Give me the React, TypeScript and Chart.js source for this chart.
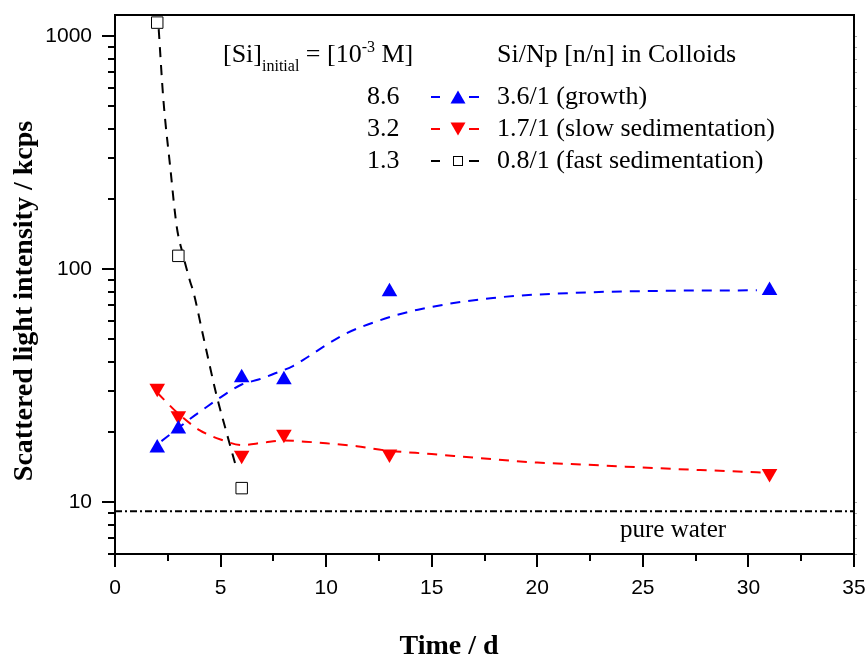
import React, { useEffect, useRef } from 'react';
import { Chart, registerables } from 'chart.js';

Chart.register(...registerables);

// ---- measured data ----
const days = [2, 3, 6, 8, 13, 31];
const growthIntensity = [17.1, 20.6, 34.2, 33.5, 80, 81];
const slowSedIntensity = [30.8, 23.5, 15.9, 19.6, 16.1, 13.3];
const fastSedDays = [2, 3, 6];
const fastSedIntensity = [1141, 114, 11.5];

// ---- fitted curves ----
const growthFitDays = [2.2, 3, 3.5, 4.2, 5, 6, 6.8, 7.5, 8.45, 9.27, 10.06, 10.93, 12.49, 14.35, 17.9, 21.6, 26.4, 30.4];
const growthFitIntensity = [18.3, 20.8, 22.6, 25.1, 28.2, 32, 33.6, 35.5, 38.5, 42.8, 47.6, 52.9, 60.1, 67, 75.2, 79, 80.8, 81.1];
const slowSedFitDays = [2, 3, 4, 5, 6, 7, 8, 9, 10, 11.45, 12.8, 15, 17.2, 20, 21.6, 25.7, 29.9, 30.8];
const slowSedFitIntensity = [29.5, 24, 20.4, 18.6, 17.6, 18, 18.4, 18.2, 17.9, 17.4, 16.7, 16.1, 15.5, 14.8, 14.6, 14.0, 13.5, 13.4];
const fastSedFitDays = [2.07, 2.29, 2.61, 2.92, 3.2, 3.55, 3.71, 4.19, 4.82, 5.29, 5.77];
const fastSedFitIntensity = [1070, 535, 277, 153, 117, 89, 80, 51, 28.5, 19.8, 13.8];

const pureWaterLevel = 9.15;

// ---- axes ----
const xMin = 0;
const xMax = 35;
const yMin = 6;
const yMax = 1230;
const xTicks = [0, 5, 10, 15, 20, 25, 30, 35];
const xMinorTicks = [2.5, 7.5, 12.5, 17.5, 22.5, 27.5, 32.5];
const yTicks = [10, 100, 1000];
const yMinorTicks = [6, 7, 8, 9, 20, 30, 40, 50, 60, 70, 80, 90, 200, 300, 400, 500, 600, 700, 800, 900];

const xTitle = 'Time / d';
const yTitle = 'Scattered light intensity / kcps';

// ---- legend ----
const legendConc = ['8.6', '3.2', '1.3'];
const legendLabels = ['3.6/1 (growth)', '1.7/1 (slow sedimentation)', '0.8/1 (fast sedimentation)'];
const legendColors = ['#0000ff', '#ff0000', '#000000'];
const legendMarkers = ['up', 'down', 'square'];

const pts = (xs: number[], ys: number[]) => xs.map((x, i) => ({ x, y: ys[i] }));

const decorPlugin = {
  id: 'decor',
  afterDraw(chart: any) {
    const { ctx, chartArea: a, scales } = chart;
    const xs = scales.x;
    const ys = scales.y;
    ctx.save();
    ctx.strokeStyle = '#000';
    ctx.lineWidth = 2;
    ctx.beginPath();
    xTicks.forEach((v) => {
      const p = Math.round(xs.getPixelForValue(v));
      ctx.moveTo(p, a.bottom);
      ctx.lineTo(p, a.bottom + 13);
    });
    xMinorTicks.forEach((v) => {
      const p = Math.round(xs.getPixelForValue(v));
      ctx.moveTo(p, a.bottom);
      ctx.lineTo(p, a.bottom + 7);
    });
    yTicks.forEach((v) => {
      const p = Math.round(ys.getPixelForValue(v));
      ctx.moveTo(a.left, p);
      ctx.lineTo(a.left - 13, p);
    });
    yMinorTicks.forEach((v) => {
      const p = Math.round(ys.getPixelForValue(v));
      ctx.moveTo(a.left, p);
      ctx.lineTo(a.left - 7, p);
    });
    ctx.stroke();

    ctx.strokeStyle = '#aaa';
    ctx.lineWidth = 1;
    ctx.beginPath();
    [...yTicks, ...yMinorTicks].forEach((v) => {
      const p = Math.round(ys.getPixelForValue(v)) + 0.5;
      ctx.moveTo(a.right, p);
      ctx.lineTo(a.right + 3, p);
    });
    ctx.stroke();

    ctx.strokeStyle = '#000';
    ctx.lineWidth = 2;
    ctx.strokeRect(a.left, a.top, a.right - a.left, a.bottom - a.top);

    ctx.fillStyle = '#000';
    ctx.font = 'bold 28px "Liberation Serif", "Times New Roman", serif';
    ctx.textAlign = 'center';
    ctx.textBaseline = 'alphabetic';
    ctx.fillText(xTitle, 449, 654);
    ctx.translate(32, 301);
    ctx.rotate(-Math.PI / 2);
    ctx.fillText(yTitle, 0, 0);
    ctx.restore();
  },
};

function LegendMarker({ kind, color }: { kind: string; color: string }) {
  const cy = 8;
  let marker: any;
  if (kind === 'up') {
    marker = <polygon points={`22.5,${cy + 6.5} 37.5,${cy + 6.5} 30,${cy - 6.5}`} fill={color} />;
  } else if (kind === 'down') {
    marker = <polygon points={`22.5,${cy - 6.5} 37.5,${cy - 6.5} 30,${cy + 6.5}`} fill={color} />;
  } else {
    marker = <rect x={25.5} y={cy - 4.5} width={9} height={9} fill="#fff" stroke={color} strokeWidth={1} />;
  }
  return (
    <svg width={52} height={16} style={{ position: 'absolute', left: 428, top: -8, overflow: 'visible' }}>
      <line x1={3} y1={cy} x2={12} y2={cy} stroke={color} strokeWidth={2} />
      {marker}
      <line x1={41} y1={cy} x2={51} y2={cy} stroke={color} strokeWidth={2} />
    </svg>
  );
}

function Legend() {
  const font: any = {
    fontFamily: '"Liberation Serif", "Times New Roman", serif',
    fontSize: 26,
    lineHeight: '26px',
    color: '#000',
    whiteSpace: 'nowrap',
    position: 'absolute',
  };
  const rowBaselines = [105, 137, 169];
  return (
    <div style={{ position: 'absolute', left: 0, top: 0, width: 868, height: 657, pointerEvents: 'none' }}>
      <div style={{ ...font, left: 223, top: 62.5 - 21.8 }}>
        [Si]
        <span style={{ fontSize: 16, position: 'relative', top: 9 }}>initial</span>
        {' = [10'}
        <span style={{ fontSize: 16, position: 'relative', top: -10 }}>-3</span>
        {' M]'}
      </div>
      <div style={{ ...font, left: 497, top: 62.5 - 21.8 }}>Si/Np [n/n] in Colloids</div>
      {legendConc.map((c, i) => (
        <React.Fragment key={c}>
          <div style={{ ...font, left: 367, top: rowBaselines[i] - 21.8 }}>{c}</div>
          <div style={{ position: 'absolute', left: 0, top: rowBaselines[i] - 8 }}>
            <LegendMarker kind={legendMarkers[i]} color={legendColors[i]} />
          </div>
          <div style={{ ...font, left: 497, top: rowBaselines[i] - 21.8 }}>{legendLabels[i]}</div>
        </React.Fragment>
      ))}
      <div style={{ ...font, fontSize: 25, lineHeight: '25px', left: 620, top: 536.7 - 20.9 }}>pure water</div>
    </div>
  );
}

export default function App() {
  const ref = useRef<HTMLCanvasElement>(null);
  useEffect(() => {
    const fitLine = (data: any[], color: string) => ({
      type: 'line',
      data,
      borderColor: color,
      borderWidth: 2,
      borderDash: [10, 8],
      pointRadius: 0,
      cubicInterpolationMode: 'monotone',
      fill: false,
      order: 2,
    });
    const chart = new Chart(ref.current as HTMLCanvasElement, {
      type: 'line',
      data: {
        datasets: [
          {
            label: '3.6/1 (growth)',
            data: pts(days, growthIntensity),
            showLine: false,
            pointStyle: 'triangle',
            pointRadius: 9,
            pointBackgroundColor: '#0000ff',
            pointBorderColor: '#0000ff',
            pointBorderWidth: 0,
            order: 0,
          },
          {
            label: '1.7/1 (slow sedimentation)',
            data: pts(days, slowSedIntensity),
            showLine: false,
            pointStyle: 'triangle',
            pointRotation: 180,
            pointRadius: 9,
            pointBackgroundColor: '#ff0000',
            pointBorderColor: '#ff0000',
            pointBorderWidth: 0,
            order: 0,
          },
          {
            label: '0.8/1 (fast sedimentation)',
            data: pts(fastSedDays, fastSedIntensity),
            showLine: false,
            pointStyle: 'rect',
            pointRadius: 8.1,
            pointBackgroundColor: '#ffffff',
            pointBorderColor: '#000000',
            pointBorderWidth: 1,
            order: 0,
          },
          fitLine(pts(growthFitDays, growthFitIntensity), '#0000ff'),
          fitLine(pts(slowSedFitDays, slowSedFitIntensity), '#ff0000'),
          fitLine(pts(fastSedFitDays, fastSedFitIntensity), '#000000'),
          {
            label: 'pure water',
            data: [
              { x: xMin, y: pureWaterLevel },
              { x: xMax, y: pureWaterLevel },
            ],
            borderColor: '#000',
            borderWidth: 2,
            borderDash: [7, 3, 2, 3],
            pointRadius: 0,
            fill: false,
            order: 3,
          },
        ] as any,
      },
      options: {
        responsive: false,
        animation: false,
        events: [],
        layout: { padding: { top: 15, right: 14, left: 0, bottom: 0 } },
        plugins: { legend: { display: false }, tooltip: { enabled: false }, title: { display: false } },
        scales: {
          x: {
            type: 'linear',
            min: xMin,
            max: xMax,
            grid: { display: false, drawTicks: false },
            border: { display: false },
            afterBuildTicks: (s: any) => {
              s.ticks = xTicks.map((v) => ({ value: v }));
            },
            afterFit: (s: any) => {
              s.height = 103;
              s.paddingLeft = 0;
              s.paddingRight = 0;
              s.paddingTop = 0;
              s.paddingBottom = 0;
            },
            ticks: {
              padding: 22,
              autoSkip: false,
              maxRotation: 0,
              color: '#000',
              font: { family: '"Liberation Sans", Arial, sans-serif', size: 21 },
              callback: (v: any) => String(v),
            },
          },
          y: {
            type: 'logarithmic',
            min: yMin,
            max: yMax,
            grid: { display: false, drawTicks: false },
            border: { display: false },
            afterBuildTicks: (s: any) => {
              s.ticks = yTicks.map((v) => ({ value: v, major: true }));
            },
            afterFit: (s: any) => {
              s.width = 115;
              s.paddingLeft = 0;
              s.paddingRight = 0;
              s.paddingTop = 0;
              s.paddingBottom = 0;
            },
            ticks: {
              padding: 23,
              autoSkip: false,
              color: '#000',
              font: { family: '"Liberation Sans", Arial, sans-serif', size: 21 },
              callback: (v: any) => String(v),
            },
          },
        },
      } as any,
      plugins: [decorPlugin],
    });
    return () => chart.destroy();
  }, []);

  return (
    <div style={{ position: 'absolute', left: 0, top: 0, width: 868, height: 657, background: '#fff', overflow: 'hidden' }}>
      <canvas ref={ref} width={868} height={657} style={{ display: 'block', width: 868, height: 657 }} />
      <Legend />
    </div>
  );
}
